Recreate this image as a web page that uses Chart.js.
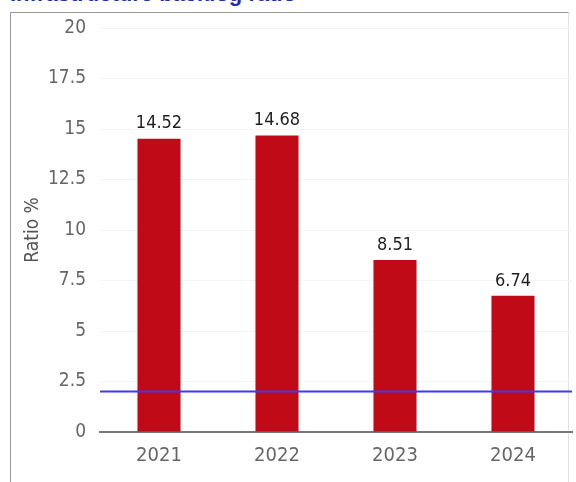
<!DOCTYPE html>
<html>
<head>
<meta charset="utf-8">
<script src="https://cdn.jsdelivr.net/npm/chart.js@4/dist/chart.umd.min.js"></script>
<style>
  html, body { margin: 0; padding: 0; background: #fff; }
  #wrap { position: relative; width: 576px; height: 482px; overflow: hidden; }
  #titulo {
    position: absolute; left: 10px; top: -19px;
    font: bold 22px "Liberation Sans", Arial, sans-serif;
    color: #2230a8; white-space: nowrap;
  }
  #khung {
    position: absolute; left: 10px; top: 12px; width: 557px; height: 480px;
    border: 1px solid #9a9a9a; border-right-color: #e2e2e2;
  }
  #bieudo { position: absolute; left: 0; top: 0; }
</style>
</head>
<body>
<div id="wrap">
  <div id="titulo">Infrastructure backlog ratio</div>
  <div id="khung"></div>
  <canvas id="bieudo" width="576" height="482"></canvas>
</div>
<script>
var years = ['2021', '2022', '2023', '2024'];
var ratios = [14.52, 14.68, 8.51, 6.74];
var yTicks = [0, 2.5, 5, 7.5, 10, 12.5, 15, 17.5, 20];
var nguong = 2.0; // đường mục tiêu

var fontChu = '"DejaVu Sans Condensed", "Liberation Sans", sans-serif';

// Ghi giá trị trên mỗi cột
var nhanCot = {
    id: 'nhanCot',
    afterDatasetsDraw: function (chart) {
        var ctx = chart.ctx;
        var meta = chart.getDatasetMeta(0);
        ctx.save();
        ctx.font = '18px ' + fontChu;
        ctx.fillStyle = '#1e1e1e';
        ctx.textAlign = 'center';
        ctx.textBaseline = 'bottom';
        meta.data.forEach(function (bar, i) {
            ctx.fillText(ratios[i].toFixed(2), bar.x, bar.y - 6);
        });
        ctx.restore();
    }
};

// Đường ngang màu xanh
var duongNguong = {
    id: 'duongNguong',
    afterDatasetsDraw: function (chart) {
        var ctx = chart.ctx;
        var area = chart.chartArea;
        var y = chart.scales.y.getPixelForValue(nguong);
        ctx.save();
        ctx.strokeStyle = '#3b3bf0';
        ctx.lineWidth = 2;
        ctx.beginPath();
        ctx.moveTo(area.left, y);
        ctx.lineTo(area.right, y);
        ctx.stroke();
        ctx.restore();
    }
};

new Chart(document.getElementById('bieudo'), {
    type: 'bar',
    data: {
        labels: years,
        datasets: [{
            data: ratios,
            backgroundColor: '#c00a18',
            categoryPercentage: 1,
            barPercentage: 0.365
        }]
    },
    options: {
        responsive: false,
        animation: false,
        layout: { padding: { top: 28, right: 4, left: 0, bottom: 0 } },
        plugins: {
            legend: { display: false },
            tooltip: { enabled: false }
        },
        scales: {
            x: {
                grid: { display: false, drawTicks: false },
                border: { color: '#777', width: 2 },
                ticks: { color: '#666', padding: 12, font: { family: fontChu, size: 20 } },
                afterFit: function (s) { s.height = 50; }
            },
            y: {
                min: 0,
                max: 20,
                afterBuildTicks: function (s) {
                    s.ticks = yTicks.map(function (v) { return { value: v }; });
                },
                grid: { color: '#f4f4f4', drawTicks: false },
                border: { display: false },
                ticks: { color: '#666', padding: 14, font: { family: fontChu, size: 19 } },
                title: {
                    display: true,
                    text: 'Ratio %',
                    color: '#555',
                    padding: { top: 22, bottom: 0 },
                    font: { family: fontChu, size: 19 }
                },
                afterFit: function (s) { s.width = 100; }
            }
        }
    },
    plugins: [duongNguong, nhanCot]
});
</script>
</body>
</html>
